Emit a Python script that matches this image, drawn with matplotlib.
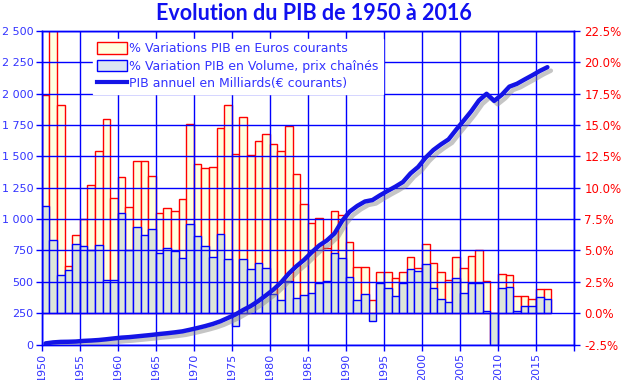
import numpy as np
import matplotlib
matplotlib.use("Agg")
import matplotlib.pyplot as plt
import matplotlib.patheffects as pe
from matplotlib.patches import Patch
from matplotlib.lines import Line2D

years = np.arange(1950, 2017)

# % variation du PIB en euros courants
var_courants = [
    17.4, 27.0, 16.6, 3.74, 6.23, 7.5, 10.25, 12.95, 15.5, 9.2,
    10.87, 8.47, 12.1, 12.1, 10.96, 7.99, 8.4, 8.17, 9.1, 15.1,
    11.92, 11.58, 11.65, 14.72, 16.62, 12.71, 15.6, 12.6, 13.7, 14.3,
    13.5, 12.95, 14.95, 11.07, 8.72, 7.18, 7.58, 5.17, 8.13, 7.83,
    5.65, 3.65, 3.65, 1.02, 3.32, 3.27, 2.78, 3.26, 4.49, 3.64,
    5.5, 3.97, 3.26, 2.68, 4.45, 3.58, 4.6, 5.04, 2.6, -2.4,
    3.1, 3.02, 1.36, 1.36, 1.15, 1.9, 1.9,
]

# % variation du PIB en volume, prix chaines
var_volume = [
    8.55, 5.82, 3.06, 3.44, 5.54, 5.33, 5.0, 5.46, 2.64, 2.64,
    7.98, 5.0, 6.85, 6.2, 6.7, 4.81, 5.22, 4.95, 4.43, 7.1,
    6.14, 5.35, 4.5, 6.3, 4.3, -1.0, 4.3, 3.5, 3.98, 3.58,
    1.52, 1.07, 2.54, 1.23, 1.47, 1.63, 2.38, 2.59, 4.79, 4.39,
    2.91, 1.02, 1.55, -0.59, 2.38, 2.03, 1.39, 2.38, 3.56, 3.4,
    3.92, 1.98, 1.1, 0.86, 2.81, 1.58, 2.38, 2.38, 0.21, -2.9,
    1.98, 2.09, 0.21, 0.61, 0.61, 1.26, 1.1,
]

# PIB annuel en milliards d'euros courants
pib = [
    10, 18, 22, 23, 25, 30, 33, 37, 43, 50,
    56, 60, 66, 72, 78, 85, 91, 98, 106, 119,
    133, 148, 165, 186, 213, 241, 276, 308, 348, 393,
    440, 497, 567, 625, 675, 735, 790, 830, 885, 985,
    1060, 1105, 1140, 1152, 1190, 1225, 1258, 1295, 1364, 1415,
    1490, 1550, 1595, 1635, 1712, 1785, 1860, 1945, 1998, 1942,
    1990, 2055, 2078, 2112, 2145, 2180, 2210,
]

left_ticks = np.arange(0, 2501, 250)
left_labels = ["0", "250", "500", "750", "1 000", "1 250", "1 500",
               "1 750", "2 000", "2 250", "2 500"]
right_ticks = np.arange(-2.5, 22.6, 2.5)
right_labels = [f"{v:.1f}%" for v in right_ticks]
year_ticks = np.arange(1950, 2021, 5)
year_labels = [str(y) if y < 2020 else "" for y in year_ticks]

BLUE = "#0000FF"
TXT_BLUE = "#3333FF"
RED = "#FF0000"

fig = plt.figure(figsize=(6.27, 3.80), dpi=100)
ax = fig.add_axes([0.0665, 0.093, 0.849, 0.826])

ax.bar(years, var_courants, width=1, align="edge", bottom=0,
       color="#FFFFE0", edgecolor=RED, linewidth=1.0, zorder=1)
ax.bar(years, var_volume, width=1, align="edge", bottom=0,
       color="#DDE6DA", edgecolor=BLUE, linewidth=1.0, zorder=1.1)

ax.set_xlim(1950, 2020)
ax.set_ylim(-2.5, 22.5)
ax.set_xticks(year_ticks)
ax.set_xticklabels(year_labels, rotation=90)
ax.grid(True, color=BLUE, linewidth=1.0)
ax.tick_params(axis="x", colors=BLUE, labelcolor=TXT_BLUE, labelsize=8,
               length=4, width=1, pad=2)

ax2 = ax.twinx()
ax2.plot(years + 0.5, pib, color="#1414E6", linewidth=3.2,
         solid_capstyle="round", zorder=3,
         path_effects=[pe.SimpleLineShadow(offset=(2.5, -2.5),
                                           shadow_color="#808080", alpha=0.45),
                       pe.Normal()])
ax2.set_ylim(0, 2500)
ax2.set_yticks(left_ticks)
ax2.set_yticklabels(left_labels)
ax2.yaxis.tick_left()
ax2.tick_params(axis="y", colors=BLUE, labelcolor=TXT_BLUE, labelsize=8,
                length=4, width=1, pad=2)

# percent axis on the right, after twinx reset it
ax.yaxis.tick_right()
ax.set_yticks(right_ticks)
ax.set_yticklabels(right_labels)
ax.tick_params(axis="y", colors=BLUE, labelcolor=RED, labelsize=8.5,
               length=4, width=1)

for a in (ax, ax2):
    for side in ("left", "right", "bottom", "top"):
        a.spines[side].set_color(BLUE)
        a.spines[side].set_linewidth(1.0)

handles = [
    Patch(facecolor="#FFFFE0", edgecolor=RED, linewidth=1.0),
    Patch(facecolor="#DCE6F2", edgecolor=BLUE, linewidth=1.0),
    Line2D([0], [0], color="#1414E6", linewidth=3),
]
labels = [
    "% Variations PIB en Euros courants",
    "% Variation PIB en Volume, prix chaînés",
    "PIB annuel en Milliards(€ courants)",
]
leg = ax2.legend(handles, labels, loc="upper left", bbox_to_anchor=(0.085, 0.995),
                 frameon=True, fancybox=False, framealpha=1, edgecolor="white",
                 fontsize=9, handlelength=2.4, handleheight=1.0,
                 labelspacing=0.35, borderpad=0.3, handletextpad=0.2)
for t in leg.get_texts():
    t.set_color(TXT_BLUE)

fig.text(0.5, 0.965, "Evolution du PIB de 1950 à 2016", ha="center", va="center",
         fontsize=15.5, fontweight="bold", color="#1010F0", family="Lato")

fig.savefig("out.png", dpi=100)
